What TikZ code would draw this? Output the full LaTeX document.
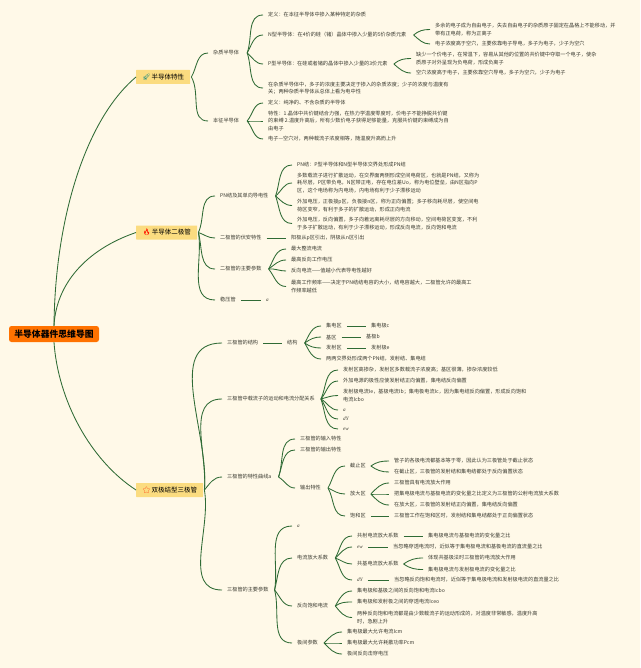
\documentclass[tikz,border=0pt]{standalone}
\usepackage{fontspec}
\usepackage{xcolor}
\setmainfont{Noto Sans CJK SC}
\newfontfamily\emofont{Noto Emoji}
\newfontfamily\latfont{Liberation Serif}
\definecolor{bgcol}{HTML}{FFF9E8}
\definecolor{linecol}{HTML}{2F6B35}
\definecolor{txtcol}{HTML}{3A3A30}
\definecolor{boxcol}{HTML}{FBDC80}
\definecolor{rootcol}{HTML}{FF7200}
\tikzset{
  lnk/.style={draw=linecol,line width=0.85pt},
  txt/.style={anchor=west,inner xsep=5pt,inner ysep=1pt,align=left,text=txtcol,font=\fontsize{5.15}{7.2}\selectfont},
  topic/.style={anchor=west,fill=boxcol,rounded corners=0.5pt,inner sep=0pt,minimum height=14pt,text=black,font=\fontsize{6.5}{8}\selectfont},
  rootbox/.style={fill=rootcol,rounded corners=2.5pt,inner sep=0pt,minimum width=90pt,minimum height=16pt,text=black,font=\fontsize{8.8}{10}\selectfont\bfseries}
}
\begin{document}
\begin{tikzpicture}[x=1pt,y=-1pt]
\fill[bgcol](0,0)rectangle(640,668);
\useasboundingbox(0,0)rectangle(640,668);
\node[rootbox](root)at(54,334){半导体器件思维导图};
\node[topic,minimum width=54pt](ta)at(136,77){{\emofont\textcolor{teal}{🚀}}\,半导体特性};
\node[topic,minimum width=61pt](tb)at(136,232.5){{\emofont\textcolor{red!80!orange}{🔥}}\,半导体二极管};
\node[topic,minimum width=67pt](tc)at(136,490){{\emofont\textcolor{red!70!orange}{⭐}}\,双极结型三极管};
\draw[lnk](root.north).. controls (55,220) and (85,120) ..(ta.west);
\draw[lnk](root.north).. controls (56,285) and (85,250) ..(tb.west);
\draw[lnk](root.south).. controls (58,400) and (90,460) ..(tc.west);
\node[txt](az)at(208,53){杂质半导体};
\node[txt](ab)at(208,121){本征半导体};
\foreach \c/\o in {az/60,ab/-60}\draw[lnk]([xshift=1pt]ta.east)to[out=\o,in=180](\c.west);
\node[txt](za)at(263,15){定义：在本征半导体中掺入某种特定的杂质};
\node[txt](zn)at(263,35){N型半导体：在4价的硅（锗）晶体中掺入少量的5价杂质元素};
\node[txt](zp)at(263,64){P型半导体：在硅或者锗的晶体中掺入少量的3价元素};
\node[txt](zd)at(263,88){在杂质半导体中，多子的浓度主要决定于掺入的杂质浓度；少子的浓度与温度有\\关；两种杂质半导体从总体上看为电中性};
\foreach \c/\o in {za/70,zn/60,zp/-40,zd/-70}\draw[lnk]([xshift=3pt]az.east)to[out=\o,in=180](\c.west);
\node[txt](na)at(430,29.5){多余的电子成为自由电子，失去自由电子的杂质原子固定在晶格上不能移动，并\\带有正电荷，称为正离子};
\node[txt](nb)at(430,44){电子浓度高于空穴，主要依靠电子导电，多子为电子，少子为空穴};
\foreach \c/\o in {na/40,nb/-40}\draw[lnk]([xshift=2pt]zn.east)to[out=\o,in=180](\c.west);
\node[txt](pa)at(411,58.5){缺少一个价电子，在常温下，容易从其他的位置的共价键中夺取一个电子，使杂\\质原子对外呈现为负电荷，形成负离子};
\node[txt](pb)at(411,73){空穴浓度高于电子，主要依靠空穴导电，多子为空穴，少子为电子};
\foreach \c/\o in {pa/40,pb/-40}\draw[lnk]([xshift=1pt]zp.east)to[out=\o,in=180](\c.west);
\node[txt](ba)at(263,103){定义：纯净的、不含杂质的半导体};
\node[txt](bb)at(263,121){特性：1.晶体中共价键结合力强，在热力学温度零度时，价电子不能挣脱共价键\\的束缚 2.温度升高后，所有少数价电子获得足够能量，克服共价键的束缚成为自\\由电子};
\node[txt](bc)at(263,139){电子—空穴对，两种载流子浓度相等，随温度升高而上升};
\foreach \c/\o in {ba/50,bb/0,bc/-50}\draw[lnk]([xshift=3pt]ab.east)to[out=\o,in=180](\c.west);
\node[txt](pn)at(215,196){PN结及其单向导电性};
\node[txt](fa)at(215,238){二极管的伏安特性};
\node[txt](cs)at(215,269){二极管的主要参数};
\node[txt](wy)at(215,300){稳压管};
\foreach \c/\o in {pn/65,fa/-20,cs/-75,wy/-80}\draw[lnk]([xshift=1pt]tb.east)to[out=\o,in=180](\c.west);
\node[txt](pa1)at(292,165){PN结：P型半导体和N型半导体交界处形成PN结};
\node[txt](pa2)at(292,183){多数载流子进行扩散运动，在交界面两侧形成空间电荷区，也就是PN结，又称为\\耗尽层，P区带负电，N区带正电，存在电位差Uo，称为电位壁垒，由N区指向P\\区，这个电场称为内电场，内电场有利于少子漂移运动};
\node[txt](pa3)at(292,205.5){外加电压，正极接p区，负极接n区，称为正向偏置；多子移向耗尽层，使空间电\\荷区变窄，有利于多子的扩散运动，形成正向电流};
\node[txt](pa4)at(292,223.5){外加电压，反向偏置，多子向着远离耗尽层的方向移动，空间电荷区变宽，不利\\于多子扩散运动，有利于少子漂移运动，形成反向电流，反向饱和电流};
\foreach \c/\o in {pa1/70,pa2/40,pa3/-40,pa4/-70}\draw[lnk]([xshift=2pt]pn.east)to[out=\o,in=180](\c.west);
\node[txt](fb)at(286,238){阳极从p区引出，阴极从n区引出};
\draw[lnk](fa.east)--(fb.west);
\node[txt](ca)at(286,249){最大整流电流};
\node[txt](cb)at(286,260){最高反向工作电压};
\node[txt](cc)at(286,271){反向电流——值越小代表导电性越好};
\node[txt](cd)at(286,286.5){最高工作频率——决定于PN结结电容的大小，结电容越大，二极管允许的最高工\\作频率越低};
\foreach \c/\o in {ca/60,cb/35,cc/5,cd/-50}\draw[lnk]([xshift=2pt]cs.east)to[out=\o,in=180](\c.west);
\node[txt](wa)at(261,300){{\latfont\itshape a}};
\draw[lnk](wy.east)--(wa.west);
\node[txt](ja)at(222,343){三极管的结构};
\node[txt](jb)at(222,399){三极管中载流子的运动和电流分配关系};
\node[txt](jc)at(222,477){三极管的特性曲线a};
\node[txt](jd)at(222,590){三极管的主要参数};
\foreach \c/\o in {ja/85,jb/85,jc/50,jd/-80}\draw[lnk]([xshift=1pt]tc.east)to[out=\o,in=180](\c.west);
\node[txt](ga)at(282,343){结构};
\draw[lnk](ja.east)--(ga.west);
\node[txt](ga1)at(321,326){集电区};
\node[txt](ga2)at(321,337){基区};
\node[txt](ga3)at(321,348){发射区};
\node[txt](ga4)at(321,359){两两交界处形成两个PN结，发射结、集电结};
\foreach \c/\o in {ga1/60,ga2/35,ga3/-35,ga4/-60}\draw[lnk]([xshift=2pt]ga.east)to[out=\o,in=180](\c.west);
\node[txt](gb1)at(366,326){集电极c};
\node[txt](gb2)at(361,337){基极b};
\node[txt](gb3)at(366,348){发射极e};
\foreach \a/\b in {ga1/gb1,ga2/gb2,ga3/gb3}\draw[lnk](\a.east)--(\b.west);
\node[txt](ya)at(338,370){发射区高掺杂，发射区多数载流子浓度高；基区很薄，掺杂浓度较低};
\node[txt](yb)at(338,381){外加电源的极性应使发射结正向偏置，集电结反向偏置};
\node[txt](yc)at(338,395.5){发射极电流Ie，基极电流Ib；集电极电流Ic，因为集电结反向偏置，形成反向饱和\\电流Icbo};
\node[txt](yd)at(338,410){{\latfont\itshape a}};
\node[txt](ye)at(338,419){{\latfont\itshape dY}};
\node[txt](yf)at(338,429){{\latfont\itshape ew}};
\foreach \c/\o in {ya/65,yb/50,yc/15,yd/-30,ye/-55,yf/-70}\draw[lnk]([xshift=1pt]jb.east)to[out=\o,in=180](\c.west);
\node[txt](ta1)at(295,439){三极管的输入特性};
\node[txt](ta2)at(295,450){三极管的输出特性};
\node[txt](ta3)at(295,488){输出特性};
\foreach \c/\o in {ta1/70,ta2/70,ta3/-30}\draw[lnk]([xshift=2pt]jc.east)to[out=\o,in=180](\c.west);
\node[txt](qa)at(345,466){截止区};
\node[txt](qb)at(345,494){放大区};
\node[txt](qc)at(345,516){饱和区};
\foreach \c/\o in {qa/60,qb/-25,qc/-60}\draw[lnk]([xshift=2pt]ta3.east)to[out=\o,in=180](\c.west);
\node[txt](qa1)at(389,461){管子的各极电流都基本等于零，因此认为三极管处于截止状态};
\node[txt](qa2)at(389,472){在截止区，三极管的发射结和集电结都处于反向偏置状态};
\foreach \c/\o in {qa1/35,qa2/-35}\draw[lnk](qa.east)to[out=\o,in=180](\c.west);
\node[txt](qb1)at(389,483){三极管具有电流放大作用};
\node[txt](qb2)at(389,494){把集电极电流与基极电流的变化量之比定义为三极管的公射电流放大系数};
\node[txt](qb3)at(389,505){在放大区，三极管的发射结正向偏置，集电结反向偏置};
\foreach \c/\o in {qb1/45,qb2/0,qb3/-45}\draw[lnk](qb.east)to[out=\o,in=180](\c.west);
\node[txt](qc1)at(389,516){三极管工作在饱和区时，发射结和集电结都处于正向偏置状态};
\draw[lnk](qc.east)--(qc1.west);
\node[txt](ka)at(292,526){{\latfont\itshape a}};
\node[txt](kb)at(292,558){电流放大系数};
\node[txt](kc)at(292,606){反向饱和电流};
\node[txt](kd)at(292,643){极间参数};
\foreach \c/\o in {ka/80,kb/75,kc/-50,kd/-75}\draw[lnk]([xshift=1pt]jd.east)to[out=\o,in=180](\c.west);
\node[txt](ma)at(352,536){共射电流放大系数};
\node[txt](mb)at(352,547){{\latfont\itshape ew}};
\node[txt](mc)at(352,564){共基电流放大系数};
\node[txt](md)at(352,580){{\latfont\itshape dY}};
\foreach \c/\o in {ma/60,mb/40,mc/-20,md/-60}\draw[lnk]([xshift=2pt]kb.east)to[out=\o,in=180](\c.west);
\node[txt](ma1)at(423,536){集电极电流与基极电流的变化量之比};
\node[txt](mb1)at(388,547){当忽略穿透电流时，近似等于集电极电流和基极电流的直流量之比};
\node[txt](mc1)at(423,558){体现共基极法时三极管的电流放大作用};
\node[txt](mc2)at(423,569.5){集电极电流与发射极电流的变化量之比};
\node[txt](md1)at(389,580){当忽略反向饱和电流时，近似等于集电极电流和发射极电流的直流量之比};
\foreach \a/\b in {ma/ma1,mb/mb1,md/md1}\draw[lnk](\a.east)--(\b.west);
\foreach \c/\o in {mc1/35,mc2/-35}\draw[lnk](mc.east)to[out=\o,in=180](\c.west);
\node[txt](na1)at(352,591){集电极和基极之间的反向饱和电流Icbo};
\node[txt](na2)at(352,602){集电极和发射极之间的穿透电流Iceo};
\node[txt](na3)at(352,617.5){两种反向饱和电流都是由少数载流子的运动形成的，对温度非常敏感，温度升高\\时，急剧上升};
\foreach \c/\o in {na1/60,na2/35,na3/-50}\draw[lnk]([xshift=2pt]kc.east)to[out=\o,in=180](\c.west);
\node[txt](oa)at(342,632){集电极最大允许电流Icm};
\node[txt](ob)at(342,643){集电极最大允许耗散功率Pcm};
\node[txt](oc)at(342,654){极间反向击穿电压};
\foreach \c/\o in {oa/45,ob/0,oc/-45}\draw[lnk]([xshift=1pt]kd.east)to[out=\o,in=180](\c.west);
\end{tikzpicture}
\end{document}
